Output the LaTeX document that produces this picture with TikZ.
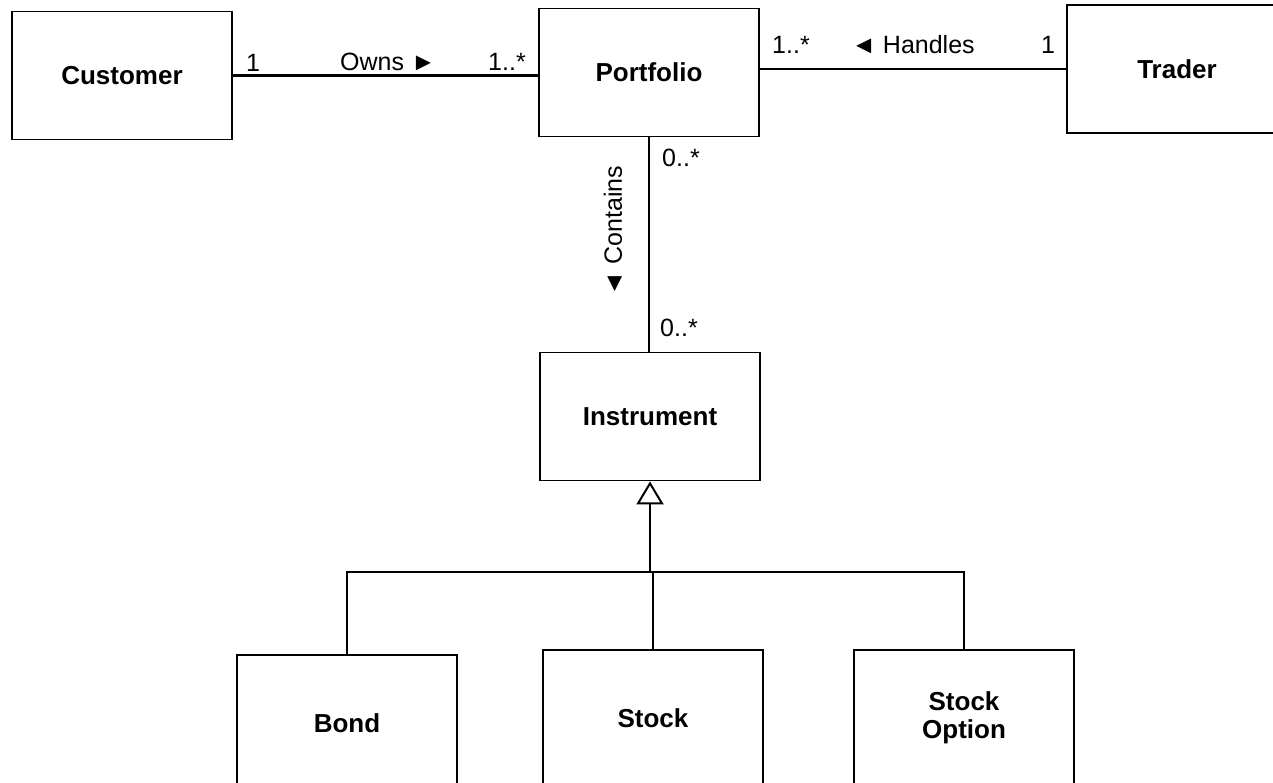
\documentclass[tikz,border=0pt]{standalone}
\usepackage{fontspec}
\setmainfont{Liberation Sans}
\usetikzlibrary{arrows.meta}

\begin{document}
\begin{tikzpicture}[
  x=0.5pt, y=-0.5pt,
  line join=miter,
  cls/.style={draw, line width=0.9pt, minimum width=110pt, minimum height=64pt,
    inner sep=0pt, align=center, font=\fontsize{13}{14}\selectfont\bfseries},
  sub/.style={cls, minimum height=68pt},
  lbl/.style={inner sep=0pt, font=\fontsize{12.5}{14}\selectfont},
  assoc/.style={line width=1.3pt},
  tree/.style={line width=1.4pt},
]
\clip (0,0) rectangle (1273,782);
\fill[white] (0,0) rectangle (1273,782);

% the classes
\node[cls] (customer)   at (122,75.5)  {Customer};
\node[cls] (portfolio)  at (649,72.5)  {Portfolio};
\node[cls] (trader)     at (1177,69)   {Trader};
\node[cls] (instrument) at (650,416.5) {Instrument};
\node[sub] (bond)       at (347,723)   {Bond};
\node[sub] (stock)      at (653,718)   {Stock};
\node[sub] (option)     at (964,718)   {Stock\\Option};

% associations
\draw[assoc] (customer.east) -- (customer.east -| portfolio.west);
\draw[assoc, line width=1.1pt] (trader.west) -- (trader.west -| portfolio.east);
\draw[line width=0.7pt] (portfolio.south) -- (portfolio.south |- instrument.north);

\node[lbl] (ownsA)   at (253,63)  {1};
\node[lbl] (owns)    at (388,62)  {Owns ►};
\node[lbl] (ownsB)   at (507,62)  {1..*};
\node[lbl] (handA)   at (791,45)  {1..*};
\node[lbl] (handles) at (913,45)  {◄ Handles};
\node[lbl] (handB)   at (1048,45) {1};
\node[lbl] (contA)   at (681,158) {0..*};
\node[lbl, rotate=90] (contains) at (613,231) {◄ Contains};
\node[lbl] (contB)   at (679,328) {0..*};

% generalisation
\coordinate (bar) at (650,572);
\draw[tree] (bond.north) |- (bar) -| (option.north);
\draw[tree] (stock.north) -- (stock.north |- bar);
\draw[tree, -{Triangle[open, length=11.5pt, width=13.5pt, line width=1pt]}]
  (instrument.south |- bar) -- (instrument.south);

\end{tikzpicture}
\end{document}
